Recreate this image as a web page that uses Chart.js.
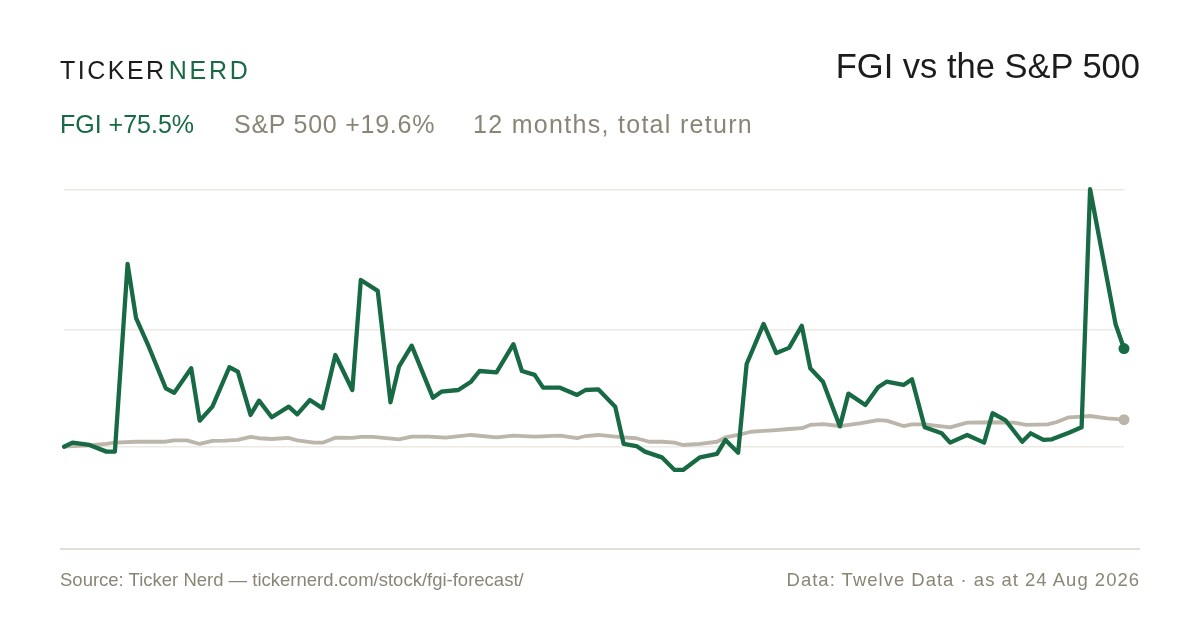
<!DOCTYPE html>
<html>
<head>
<meta charset="utf-8">
<script src="https://cdn.jsdelivr.net/npm/chart.js@4.4.1/dist/chart.umd.min.js"></script>
<style>
  html, body { margin: 0; padding: 0; background: #ffffff; }
  body { width: 1200px; height: 630px; position: relative; overflow: hidden; font-family: "Liberation Sans", Arial, sans-serif; }
  #c { position: absolute; left: 0; top: 0; width: 1200px; height: 630px; }
  .t { position: absolute; white-space: nowrap; line-height: 1; }
  .brand { left: 60px; top: 57.8px; font-size: 25px; color: #1c1c1c; }
  .brand .a { letter-spacing: 2.5px; }
  .brand .b { letter-spacing: 2.8px; color: #176a43; margin-left: 2px; }
  .title { right: 60px; top: 49px; font-size: 34.5px; color: #1c1c1c; }
  .sub { top: 111.5px; font-size: 25px; }
  .foot { top: 571.3px; font-size: 18.5px; color: #8a8576; }
  .rule { position: absolute; left: 60px; top: 548px; width: 1080px; height: 1.5px; background: #e2dfd6; }
</style>
</head>
<body>
<canvas id="c" width="1200" height="630"></canvas>
<div class="t brand"><span class="a">TICKER</span><span class="b">NERD</span></div>
<div class="t title">FGI vs the S&amp;P 500</div>
<div class="t sub" style="left:60px;color:#176a43;">FGI +75.5%</div>
<div class="t sub" style="left:234px;color:#8a8576;letter-spacing:0.75px;">S&amp;P 500 +19.6%</div>
<div class="t sub" style="left:473px;color:#8a8576;letter-spacing:1.3px;">12 months, total return</div>
<div class="rule"></div>
<div class="t foot" style="left:60px;">Source: Ticker Nerd — tickernerd.com/stock/fgi-forecast/</div>
<div class="t foot" style="right:60px;letter-spacing:1px;">Data: Twelve Data · as at 24 Aug 2026</div>
<script>
// Trading-day index (0..250) and cumulative total return (%)
const fgiDays = [0,2,6,10,12,15,17,20,24,26,30,32,35,39,41,44,46,49,53,55,58,61,64,68,70,74,77,79,82,87,89,93,96,98,102,106,108,111,113,117,121,123,126,130,132,135,137,141,144,146,150,154,156,159,161,165,168,171,174,176,179,183,185,189,192,194,198,200,203,207,209,213,217,219,222,226,228,231,233,237,240,242,248,250];
const fgiReturns = [0,3.1,1.3,-3.8,-3.8,140.5,98.8,76.9,44.9,41.5,60.3,20,30.8,61.1,57.7,24.4,35.4,22.6,30.8,24.9,35.9,29.5,70.5,43.6,128.2,119.8,34.2,61.5,77.7,37.7,42.3,43.6,50,58.2,57.2,78.8,58.2,55.2,45.4,45.4,39.8,43.6,44.1,30.8,2.1,0.5,-3.8,-8.2,-17.9,-17.9,-8.2,-5.6,5.2,-4.6,63.6,94.4,72,76,93,60.3,50,15.6,40.8,32.1,45.7,50,47.5,51.8,14.9,10.3,3.1,9,3.1,25.7,20.5,3.8,10.3,5.2,5.7,10.8,14.9,198,94.4,75.5];
const spxDays = [0,7,10,12,17,24,26,29,32,35,38,41,44,46,49,53,55,59,61,64,68,70,73,79,82,86,90,96,102,106,111,117,121,123,126,130,132,135,138,141,144,146,150,154,156,159,162,165,168,171,174,176,179,183,188,192,194,198,200,203,209,213,219,224,227,232,234,237,240,242,246,250];
const spxReturns = [0,1.3,2.1,3.1,3.8,3.8,4.9,4.9,2.1,4.4,4.6,5.2,7.5,6.5,5.9,6.7,4.9,3.1,3.1,6.9,6.7,7.5,7.5,5.7,7.7,7.7,6.9,9,7.2,8.5,7.7,8.5,6.5,8.2,9,7.7,7.2,6.5,3.8,3.8,3.1,1.3,2.1,3.8,7.2,9,11.5,12.1,12.8,13.6,14.2,16.7,17.3,15.9,18.2,20.5,20,15.9,17.2,17.2,14.9,18.5,18.8,18.5,16.7,17.2,18.8,22.6,23.1,23.6,21.8,20.8];
const gridValues = [0, 90, 198];

const GREEN = '#176a43';
const GREY = '#bcb5aa';

const fgiData = fgiDays.map((d, i) => ({ x: d, y: fgiReturns[i] }));
const spxData = spxDays.map((d, i) => ({ x: d, y: spxReturns[i] }));
const lastDot = (n, r) => (ctx) => ctx.dataIndex === n - 1 ? r : 0;

new Chart(document.getElementById('c'), {
  type: 'line',
  data: {
    datasets: [
      {
        label: 'FGI',
        data: fgiData,
        borderColor: GREEN,
        backgroundColor: GREEN,
        borderWidth: 4.3,
        tension: 0,
        borderJoinStyle: 'round',
        borderCapStyle: 'round',
        pointRadius: lastDot(fgiData.length, 5.5),
        pointBackgroundColor: GREEN,
        pointBorderWidth: 0,
        pointHoverRadius: 0,
        clip: false,
        order: 1
      },
      {
        label: 'S&P 500',
        data: spxData,
        borderColor: GREY,
        backgroundColor: GREY,
        borderWidth: 3.8,
        tension: 0,
        borderJoinStyle: 'round',
        borderCapStyle: 'round',
        pointRadius: lastDot(spxData.length, 5.5),
        pointBackgroundColor: GREY,
        pointBorderWidth: 0,
        pointHoverRadius: 0,
        clip: false,
        order: 2
      }
    ]
  },
  options: {
    responsive: false,
    animation: false,
    events: [],
    layout: { padding: { left: 64, right: 76, top: 150, bottom: 120 } },
    plugins: { legend: { display: false }, tooltip: { enabled: false } },
    scales: {
      x: { type: 'linear', min: 0, max: 250, display: false },
      y: {
        type: 'linear',
        min: -48.7,
        max: 228.2,
        display: true,
        afterFit: (s) => { s.width = 0; },
        afterBuildTicks: (axis) => { axis.ticks = gridValues.map(v => ({ value: v })); },
        ticks: { display: false },
        border: { display: false },
        grid: { color: '#ece9e3', lineWidth: 1.5, drawTicks: false }
      }
    }
  }
});
</script>
</body>
</html>
